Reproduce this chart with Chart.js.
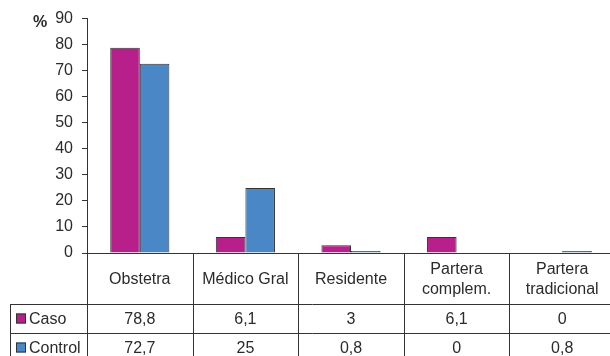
<!DOCTYPE html>
<html>
<head>
<meta charset="utf-8">
<script src="https://cdn.jsdelivr.net/npm/chart.js@4/dist/chart.umd.min.js"></script>
<style>
  html, body { margin: 0; padding: 0; background: #fff; overflow: hidden; }
  #wrap { width: 620px; height: 356px; position: relative; }
</style>
</head>
<body>
<div id="wrap"><canvas id="c"></canvas></div>
<script>
// Categories: rows are multi-line where the header cell wraps
const categories = [['Obstetra'], ['Médico Gral'], ['Residente'], ['Partera', 'complem.'], ['Partera', 'tradicional']];
const casoValues = [78.8, 6.1, 3, 6.1, 0];
const controlValues = [72.7, 25, 0.8, 0, 0.8];
const casoText = ['78,8', '6,1', '3', '6,1', '0'];
const controlText = ['72,7', '25', '0,8', '0', '0,8'];
const yTicks = [0, 10, 20, 30, 40, 50, 60, 70, 80, 90];

const CASO = '#b71f8a';
const CONTROL = '#4a87c7';
const LINE = '#333333';
const TEXT = '#2b2b2b';
const FONT = '"Liberation Sans", Arial, sans-serif';

// Draws the data table under the plot, aligned to the category scale
const dataTable = {
  id: 'dataTable',
  afterDraw(chart) {
    const { ctx, scales } = chart;
    const x = scales.x, y = scales.y;
    const y0 = y.getPixelForValue(0);
    const n = categories.length;
    const half = (x.getPixelForValue(1) - x.getPixelForValue(0)) / 2;
    const left = x.getPixelForValue(0) - half;
    const right = x.getPixelForValue(n - 1) + half;
    const headerBottom = y0 + 51;
    const row1Bottom = headerBottom + 29;
    const row2Bottom = row1Bottom + 29;
    const tableLeft = 10;

    ctx.save();
    ctx.strokeStyle = LINE;
    ctx.lineWidth = 1;
    ctx.beginPath();
    // baseline / top of table
    ctx.moveTo(left, y0 + 0.5); ctx.lineTo(right, y0 + 0.5);
    // row separators
    ctx.moveTo(tableLeft, headerBottom + 0.5); ctx.lineTo(right, headerBottom + 0.5);
    ctx.moveTo(tableLeft, row1Bottom + 0.5); ctx.lineTo(right, row1Bottom + 0.5);
    ctx.moveTo(tableLeft, row2Bottom + 0.5); ctx.lineTo(right, row2Bottom + 0.5);
    // legend column left edge
    ctx.moveTo(tableLeft + 0.5, headerBottom); ctx.lineTo(tableLeft + 0.5, row2Bottom);
    // column separators
    for (let i = 0; i <= n; i++) {
      const xx = Math.round(left + i * half * 2) + 0.5;
      ctx.moveTo(xx, y0); ctx.lineTo(xx, row2Bottom);
    }
    ctx.stroke();

    ctx.fillStyle = TEXT;
    ctx.font = '16px ' + FONT;
    ctx.textAlign = 'center';
    ctx.textBaseline = 'middle';
    for (let i = 0; i < n; i++) {
      const cx = x.getPixelForValue(i);
      const lines = categories[i];
      const mid = (y0 + headerBottom) / 2 + 1;
      const lh = 20;
      lines.forEach((t, k) => {
        ctx.fillText(t, cx, mid + (k - (lines.length - 1) / 2) * lh);
      });
      ctx.fillText(casoText[i], cx, (headerBottom + row1Bottom) / 2 + 1);
      ctx.fillText(controlText[i], cx, (row1Bottom + row2Bottom) / 2 + 1);
    }

    // legend keys
    const keys = [['Caso', CASO, (headerBottom + row1Bottom) / 2], ['Control', CONTROL, (row1Bottom + row2Bottom) / 2]];
    ctx.textAlign = 'left';
    keys.forEach(([label, color, cy]) => {
      ctx.fillStyle = color;
      ctx.fillRect(16, cy - 5, 10, 10);
      ctx.strokeStyle = LINE;
      ctx.strokeRect(16.5, cy - 4.5, 9, 9);
      ctx.fillStyle = TEXT;
      ctx.fillText(label, 29, cy + 1);
    });

    // unit label
    ctx.font = 'bold 16px ' + FONT;
    ctx.textAlign = 'left';
    ctx.fillText('%', 33, 23);
    ctx.restore();
  }
};

new Chart(document.getElementById('c'), {
  type: 'bar',
  data: {
    labels: categories.map(c => c.join(' ')),
    datasets: [
      { label: 'Caso', data: casoValues, backgroundColor: CASO, borderColor: LINE, borderWidth: 1, borderSkipped: 'bottom' },
      { label: 'Control', data: controlValues, backgroundColor: CONTROL, borderColor: LINE, borderWidth: 1, borderSkipped: 'bottom' }
    ]
  },
  options: {
    responsive: true,
    maintainAspectRatio: false,
    animation: false,
    devicePixelRatio: 1,
    layout: { padding: { left: 0, right: 5, top: 17, bottom: 103 } },
    plugins: { legend: { display: false }, tooltip: { enabled: false } },
    datasets: { bar: { categoryPercentage: 0.56, barPercentage: 1 } },
    scales: {
      x: { display: false, offset: true },
      y: {
        min: 0, max: 90,
        afterFit(s) { s.width = 87; },
        afterBuildTicks(s) { s.ticks = yTicks.map(v => ({ value: v })); },
        border: { color: LINE, width: 1 },
        grid: { drawOnChartArea: false, tickLength: 5, color: LINE },
        ticks: { padding: 9, color: TEXT, font: { family: FONT, size: 16 } }
      }
    }
  },
  plugins: [dataTable]
});
</script>
</body>
</html>
